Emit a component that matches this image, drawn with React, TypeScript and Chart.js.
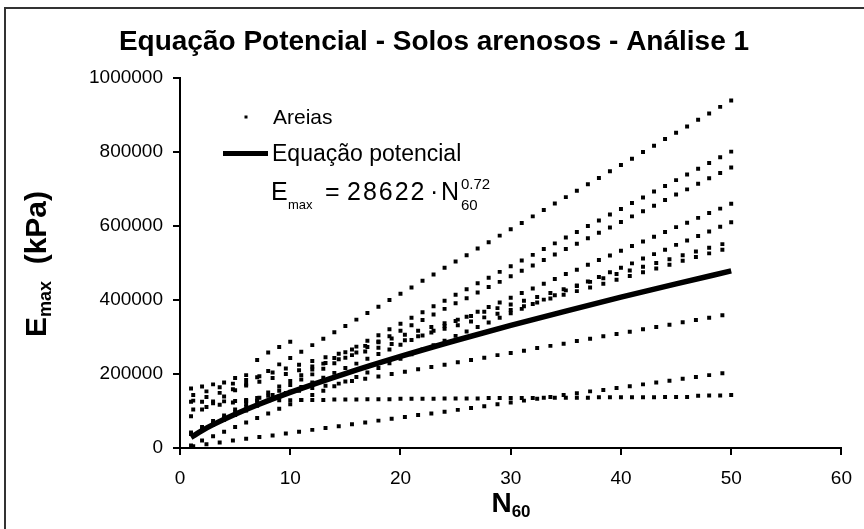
import React, { useEffect, useRef } from "react";
import { Chart, registerables } from "chart.js";

Chart.register(...registerables);

const TITLE = "Equação Potencial - Solos arenosos - Análise 1";
const X_TICKS = [0, 10, 20, 30, 40, 50, 60];
const Y_TICKS = [0, 200000, 400000, 600000, 800000, 1000000];
const KPA = 1000; // values below are in 1000 kPa

// N60 positions of the dotted series
const N_INT = [1, 2, 3, 4, 5, 6, 7, 8, 9, 10, 11, 12, 13, 14, 15, 16, 17, 18, 19, 20, 21, 22, 23, 24, 25, 26, 27, 28, 29, 30, 31, 32, 33, 34, 35, 36, 37, 38, 39, 40, 41, 42, 43, 44, 45, 46, 47, 48, 49, 50];
const N_12 = [1.2, 2.4, 3.6, 4.8, 6, 7.2, 8.4, 9.6, 10.8, 12, 13.2, 14.4, 15.6, 16.8, 18, 19.2, 20.4, 21.6, 22.8, 24, 25.2, 26.4, 27.6, 28.8, 30, 31.2, 32.4, 33.6, 34.8, 36, 37.2, 38.4, 39.6, 40.8, 42, 43.2, 44.4, 45.6, 46.8, 48, 49.2];
const N_SHORT = [1, 2, 3, 4, 5, 6, 7, 8, 9, 10];

// Areias (sands) – series (1000 kPa)
const SERIE_1 = [86, 104, 121, 139, 156, 173, 191, 208, 226, 243, 260, 278, 295, 313, 330, 347, 365, 382, 400, 417, 434, 452, 469, 487, 504, 521, 539, 556, 574, 591, 608, 626, 643, 661, 678, 695, 713, 730, 748, 765, 782, 800, 817, 835, 852, 869, 887, 904, 922, 939];
const SERIE_2 = [42, 57, 73, 88, 104, 119, 135, 150, 166, 181, 197, 212, 228, 243, 259, 274, 290, 305, 321, 336, 352, 367, 383, 398, 414, 429, 445, 460, 476, 491, 507, 522, 538, 553, 569, 584, 600, 615, 631, 646, 662, 677, 693, 708, 724, 739, 755, 770, 786, 801];
const SERIE_3 = [38, 52, 67, 82, 97, 111, 126, 141, 155, 170, 185, 199, 214, 229, 244, 258, 273, 288, 302, 317, 332, 346, 361, 376, 391, 405, 420, 435, 449, 464, 479, 493, 508, 523, 538, 552, 567, 582, 596, 611, 626, 640, 655, 670, 685, 699, 714, 729, 743, 758];
const SERIE_4 = [38, 50, 63, 76, 89, 101, 114, 127, 139, 152, 165, 177, 190, 203, 216, 228, 241, 254, 266, 279, 292, 304, 317, 330, 343, 355, 368, 381, 393, 406, 419, 431, 444, 457, 470, 482, 495, 508, 520, 533, 546, 558, 571, 584, 597, 609, 622, 635, 647, 660];
const SERIE_5 = [7, 20, 32, 44, 57, 69, 81, 93, 106, 118, 130, 143, 155, 167, 180, 192, 204, 216, 229, 241, 253, 266, 278, 290, 303, 315, 327, 339, 352, 364, 376, 389, 401, 413, 426, 438, 450, 462, 475, 487, 499, 512, 524, 536, 549, 561, 573, 585, 598, 610];
const SERIE_FLAT = [125, 125, 126, 126, 127, 127, 128, 128, 129, 129, 130, 130, 130, 131, 131, 131, 132, 132, 132, 133, 133, 133, 133, 134, 134, 134, 134, 135, 135, 135, 135, 135, 136, 136, 136, 136, 136, 137, 137, 137, 137, 137, 137, 138, 138, 138, 141, 142, 142, 143];
const SERIE_6 = [143, 153, 164, 174, 184, 194, 204, 215, 225, 235, 245, 255, 266, 276, 286, 296, 306, 317, 327, 337, 347, 357, 368, 378, 388, 398, 408, 419, 429, 439, 449, 459, 470, 480, 490, 500, 510, 521, 531, 541, 551];
const SERIE_6B = [128, 138, 149, 159, 169, 179, 189, 200, 210, 220, 230, 240, 251, 261, 271, 281, 291, 302, 312, 322, 332, 342, 353, 363, 373, 383, 393, 404, 414, 424, 434, 444, 455, 465, 475, 485, 495, 506, 516, 526, 536];
const SERIE_7 = [104, 111, 117, 123, 130, 136, 143, 149, 155, 162, 168, 174, 181, 187, 193, 200, 206, 213, 219, 225, 232, 238, 244, 251, 257, 263, 270, 276, 282, 289, 295, 302, 308, 314, 321, 327, 333, 340, 346, 352, 359];
const SERIE_8 = [5, 10, 15, 20, 25, 30, 34, 39, 44, 49, 54, 59, 64, 69, 74, 79, 84, 89, 93, 98, 103, 108, 113, 118, 123, 128, 133, 138, 143, 148, 153, 157, 162, 167, 172, 177, 182, 187, 192, 197, 202];
const SERIE_SHORT = [161, 166, 172, 177, 189, 197, 238, 258, 273, 287];

// Equação potencial – curve read at selected N60 (1000 kPa)
const CURVE_N = [1, 2, 3, 5, 7, 10, 15, 20, 25, 30, 35, 40, 45, 50];
const CURVE_E = [28.6, 47.1, 63.1, 91.2, 116.2, 150.2, 201.1, 247.4, 290.6, 331.3, 370.1, 407.6, 443.6, 478.6];

const FONT = '"Liberation Sans", Arial, Helvetica, sans-serif';

type Run = { t: string; size: number; bold?: boolean; dy?: number; ls?: number };

function runWidth(ctx: CanvasRenderingContext2D, r: Run) {
  ctx.font = `${r.bold ? "bold " : ""}${r.size}px ${FONT}`;
  (ctx as any).letterSpacing = `${r.ls || 0}px`;
  return ctx.measureText(r.t).width;
}

function drawRuns(ctx: CanvasRenderingContext2D, runs: Run[], x: number, y: number, align: "left" | "center") {
  let total = 0;
  for (const r of runs) total += runWidth(ctx, r);
  let cx = align === "center" ? x - total / 2 : x;
  ctx.textAlign = "left";
  ctx.textBaseline = "alphabetic";
  for (const r of runs) {
    const w = runWidth(ctx, r);
    ctx.fillText(r.t, cx, y + (r.dy || 0));
    cx += w;
  }
  (ctx as any).letterSpacing = "0px";
}

const decor = {
  id: "decor",
  afterDraw(chart: any) {
    const ctx: CanvasRenderingContext2D = chart.ctx;
    ctx.save();
    // outer frame
    ctx.strokeStyle = "#333";
    ctx.lineWidth = 2;
    ctx.strokeRect(5, 8, 900, 600);
    ctx.fillStyle = "#000";
    // title
    drawRuns(ctx, [{ t: TITLE, size: 28, bold: true }], 434, 50, "center");
    // x title
    drawRuns(ctx, [{ t: "N", size: 28, bold: true }, { t: "60", size: 17, bold: true, dy: 5 }], 511, 512, "center");
    // y title
    ctx.save();
    ctx.translate(46, 264);
    ctx.rotate(-Math.PI / 2);
    drawRuns(ctx, [{ t: "E", size: 30, bold: true }, { t: "max", size: 18, bold: true, dy: 5 }, { t: "  (kPa)", size: 30, bold: true }], 0, 0, "center");
    ctx.restore();
    // legend
    ctx.fillRect(244.5, 115.5, 3, 3);
    drawRuns(ctx, [{ t: "Areias", size: 21 }], 273, 124, "left");
    ctx.fillRect(223, 151, 45, 5);
    drawRuns(ctx, [{ t: "Equação potencial", size: 23 }], 272, 161, "left");
    // equation
    drawRuns(ctx, [{ t: "E", size: 25 }], 271, 200, "left");
    drawRuns(ctx, [{ t: "max", size: 13 }], 288, 209, "left");
    drawRuns(ctx, [{ t: "=", size: 25 }], 325, 200, "left");
    drawRuns(ctx, [{ t: "28622", size: 25, ls: 2 }], 347, 200, "left");
    drawRuns(ctx, [{ t: "·", size: 25 }], 430, 200, "left");
    drawRuns(ctx, [{ t: "N", size: 25 }], 441, 200, "left");
    drawRuns(ctx, [{ t: "0.72", size: 15 }], 461, 189, "left");
    drawRuns(ctx, [{ t: "60", size: 15 }], 461, 210, "left");
    ctx.restore();
  },
};

function pts(xs: number[], ys: number[]) {
  return ys.map((v, i) => ({ x: xs[i], y: v * KPA }));
}

export default function App() {
  const ref = useRef<HTMLCanvasElement | null>(null);
  useEffect(() => {
    if (!ref.current) return;
    const dot = {
      type: "scatter" as const,
      pointStyle: "rect" as const,
      pointRadius: 2.8,
      pointBorderWidth: 0,
      backgroundColor: "#000",
      borderColor: "#000",
      showLine: false,
    };
    const series: [number[], number[]][] = [
      [N_INT, SERIE_1],
      [N_INT, SERIE_2],
      [N_INT, SERIE_3],
      [N_INT, SERIE_4],
      [N_INT, SERIE_5],
      [N_INT, SERIE_FLAT],
      [N_12, SERIE_6],
      [N_12, SERIE_6B],
      [N_12, SERIE_7],
      [N_12, SERIE_8],
      [N_SHORT, SERIE_SHORT],
    ];
    const chart = new Chart(ref.current, {
      type: "scatter",
      data: {
        datasets: [
          {
            type: "line",
            label: "Equação potencial",
            data: pts(CURVE_N, CURVE_E),
            borderColor: "#000",
            borderWidth: 5.5,
            pointRadius: 0,
            showLine: true,
            cubicInterpolationMode: "monotone",
          } as any,
          ...series.map(([xs, ys], i) => ({ ...dot, label: i === 0 ? "Areias" : "Areias " + i, data: pts(xs, ys) })),
        ],
      },
      options: {
        animation: false,
        responsive: false,
        devicePixelRatio: 1,
        layout: { padding: { top: 78, left: 0, right: 19, bottom: 0 } },
        plugins: { legend: { display: false }, tooltip: { enabled: false }, title: { display: false } },
        scales: {
          x: {
            type: "linear",
            min: 0,
            max: 60,
            afterFit: (s: any) => {
              s.height = 81;
            },
            afterBuildTicks: (s: any) => {
              s.ticks = X_TICKS.map((v) => ({ value: v }));
            },
            ticks: {
              color: "#000",
              font: { family: FONT, size: 19 },
              padding: 12,
              maxRotation: 0,
              callback: (v: any) => String(v),
            },
            grid: { display: true, drawOnChartArea: false, drawTicks: true, tickLength: 7, color: "#000", lineWidth: 2 },
            border: { display: true, color: "#000", width: 2 },
          },
          y: {
            type: "linear",
            min: 0,
            max: 1000000,
            afterFit: (s: any) => {
              s.width = 180;
            },
            afterBuildTicks: (s: any) => {
              s.ticks = Y_TICKS.map((v) => ({ value: v }));
            },
            ticks: {
              color: "#000",
              font: { family: FONT, size: 19 },
              padding: 10,
              callback: (v: any) => String(v),
            },
            grid: { display: true, drawOnChartArea: false, drawTicks: true, tickLength: 7, color: "#000", lineWidth: 2 },
            border: { display: true, color: "#000", width: 2 },
          },
        },
      },
      plugins: [decor],
    });
    return () => chart.destroy();
  }, []);
  return (
    <div style={{ position: "fixed", left: 0, top: 0, width: 864, height: 529, background: "#fff" }}>
      <canvas ref={ref} width={864} height={529} style={{ display: "block", width: 864, height: 529 }} />
    </div>
  );
}
